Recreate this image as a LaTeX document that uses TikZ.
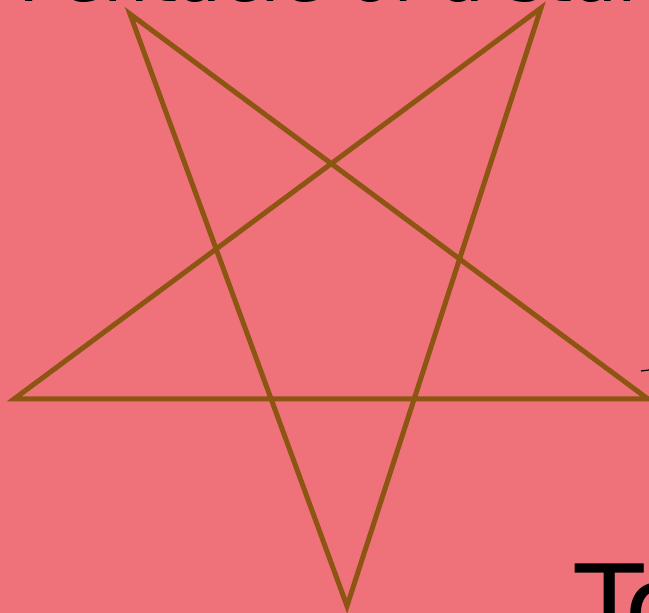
\documentclass[tikz,border=0pt]{standalone}
\usepackage{fontspec}
\setmainfont{DejaVu Sans}
\definecolor{bgpink}{HTML}{EF727A}
\definecolor{starbrown}{HTML}{8C5512}
\begin{document}
\begin{tikzpicture}[x=1pt,y=1pt,
  starline/.style={draw=starbrown,line width=5pt,line join=miter,line cap=round},
  cuttext/.style={inner sep=0pt,text=black}]
\useasboundingbox (0,0) rectangle (649,613);
\fill[bgpink] (0,0) rectangle (649,613);
\clip (0,0) rectangle (649,613);
% star vertices (y = 613 - pixel row)
\coordinate (tl) at (130,599);
\coordinate (tr) at (541,605);
\coordinate (lf) at (14,214);
\coordinate (rt) at (648,214);
\coordinate (bt) at (347,7);
\draw[starline] (tl) -- (bt) -- (tr) -- (lf) -- (rt) -- cycle;
% text cut off at the top
\node[cuttext,anchor=base west,font=\fontsize{72}{80}\selectfont] (toptext) at (18,611) {Pentacle of a star};
% text cut off at bottom right
\node[cuttext,anchor=base west,font=\fontsize{112}{120}\selectfont] (bottext) at (575,-33) {To};
% small mark at right edge
\coordinate (m1) at (641,242);
\coordinate (m2) at (649,243);
\draw[line width=1.2pt] (m1) -- (m2);
\end{tikzpicture}
\end{document}
